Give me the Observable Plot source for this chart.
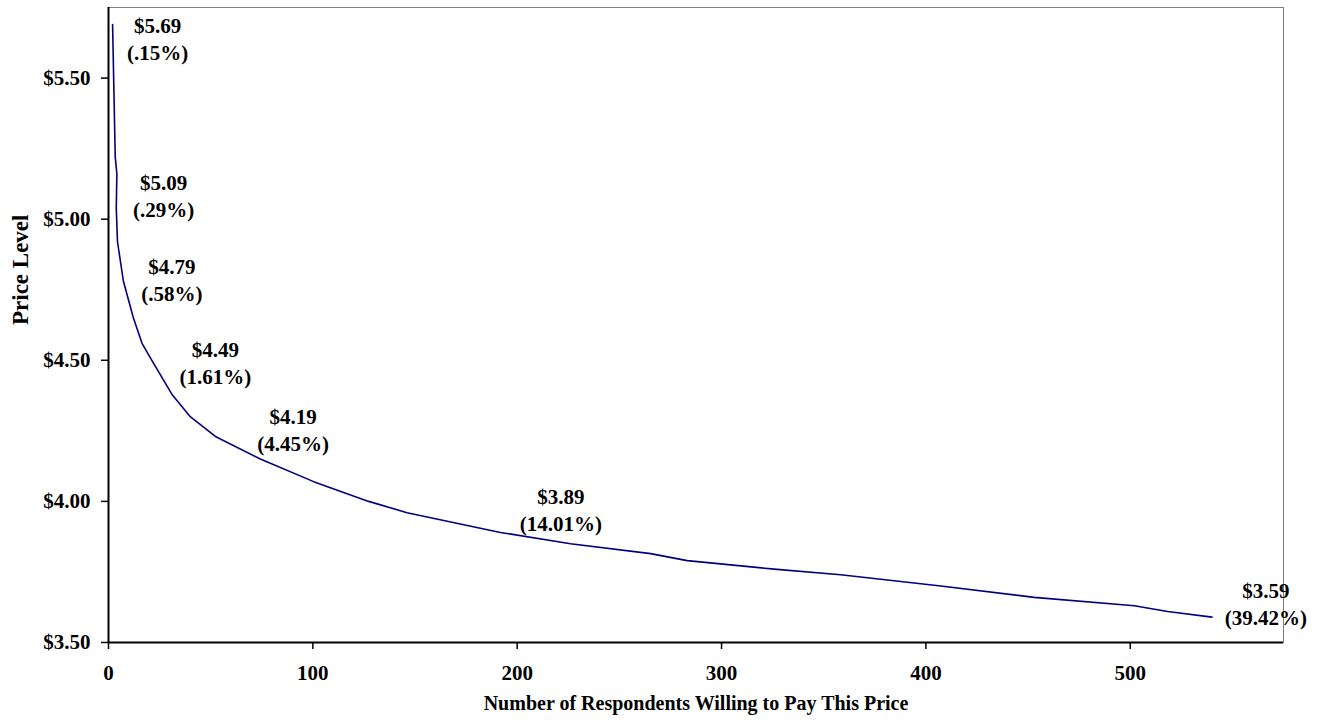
<!DOCTYPE html>
<html>
<head>
<meta charset="utf-8">
<script src="https://cdn.jsdelivr.net/npm/d3@7"></script>
<script src="https://cdn.jsdelivr.net/npm/@observablehq/plot@0.6"></script>
<style>
  html, body { margin: 0; padding: 0; background: #fff; }
</style>
</head>
<body>
<div id="chart"></div>
<script>
// ---- Data ----
const respondents = [2, 3.3, 4.1, 3.8, 4.4, 7.3, 12.2, 16.4, 22, 31, 40, 52.3, 74.3, 100.4, 127.3, 146.1, 191.8, 226.1, 265.3, 283.2, 325.7, 358.3, 407.3, 453, 502, 518.3, 540];
const prices      = [5.69, 5.22, 5.16, 5.04, 4.92, 4.78, 4.65, 4.56, 4.49, 4.38, 4.30, 4.23, 4.15, 4.07, 4.00, 3.96, 3.89, 3.85, 3.815, 3.79, 3.76, 3.74, 3.70, 3.66, 3.63, 3.61, 3.59];

const labelRespondents = [2, 4, 8, 22, 61, 192, 540];
const labelPrices      = [5.69, 5.09, 4.79, 4.49, 4.19, 3.89, 3.59];
const labelPercents    = [".15%", ".29%", ".58%", "1.61%", "4.45%", "14.01%", "39.42%"];

const xTicks = [0, 100, 200, 300, 400, 500];
const yTicks = [3.5, 4.0, 4.5, 5.0, 5.5];

const xTitle = "Number of Respondents Willing to Pay This Price";
const yTitle = "Price Level";

// ---- Styling (label nudges in pixels, relative to each labelled point) ----
const labelNudge = [[45, 13], [47, 1], [47, 0], [62, -1], [60, -19], [60, -24], [54, -14]];

const series = respondents.map((r, i) => ({ r, p: prices[i] }));
const labels = labelRespondents.map((r, i) => ({
  r,
  p: labelPrices[i],
  text: "$" + labelPrices[i].toFixed(2) + "\n(" + labelPercents[i] + ")"
}));

const font = "'Liberation Serif', 'Times New Roman', serif";

const chart = Plot.plot({
  width: 1323,
  height: 723,
  marginLeft: 108,
  marginTop: 7,
  marginRight: 40,
  marginBottom: 81,
  style: { fontFamily: font, fontWeight: "bold", fontSize: "21px", background: "#fff", color: "#000", overflow: "visible" },
  x: { domain: [0, 575] },
  y: { domain: [3.5, 5.75] },
  marks: [
    Plot.frame({ stroke: "#808080", strokeWidth: 1 }),
    Plot.axisY(yTicks, { tickSize: 7, tickPadding: 11, tickFormat: d => "$" + d.toFixed(2), label: null, fontSize: 21, strokeWidth: 1.5 }),
    Plot.axisX(xTicks, { tickSize: 7, tickPadding: 16, label: null, fontSize: 21, strokeWidth: 1.5 }),
    Plot.ruleX([0], { stroke: "#000", strokeWidth: 2 }),
    Plot.ruleY([3.5], { stroke: "#000", strokeWidth: 2 }),
    Plot.line(series, { x: "r", y: "p", stroke: "#000080", strokeWidth: 1.6 }),
    ...labels.map((d, i) => Plot.text([d], {
      x: "r", y: "p", text: "text",
      dx: labelNudge[i][0], dy: labelNudge[i][1],
      lineHeight: 1.3, fontSize: 21, fontWeight: "bold", fill: "#000"
    })),
    Plot.text([yTitle], { text: d => d, frameAnchor: "left", rotate: -90, dx: -88, fontSize: 23, fontWeight: "bold", fill: "#000" }),
    Plot.text([xTitle], { text: d => d, frameAnchor: "bottom", dy: 67, fontSize: 20, fontWeight: "bold", fill: "#000" })
  ]
});

document.getElementById("chart").appendChild(chart);
</script>
</body>
</html>
